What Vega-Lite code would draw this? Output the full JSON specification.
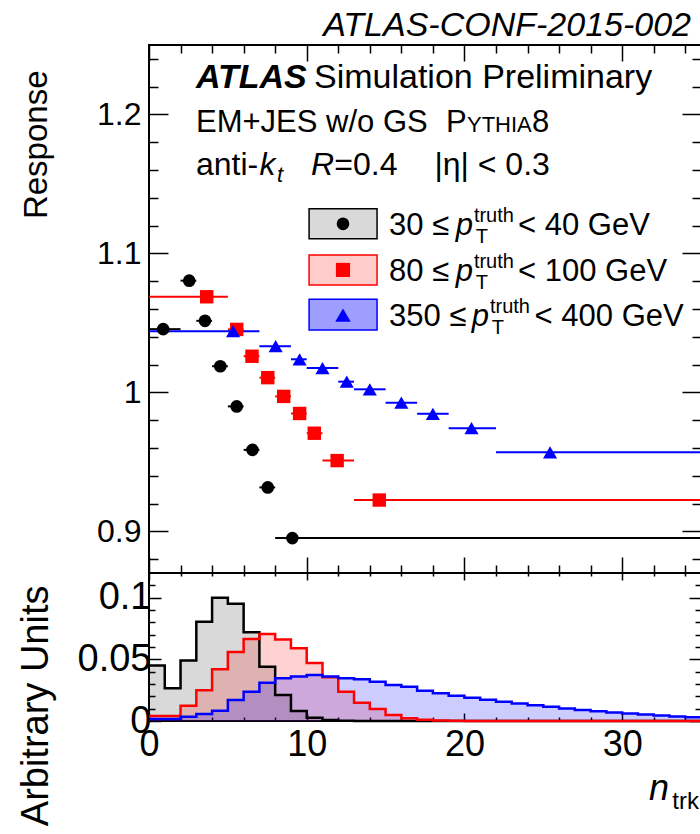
{
  "$schema": "https://vega.github.io/schema/vega-lite/v6.json",
  "padding": {"left": 15, "top": 8, "right": 0, "bottom": 0},
  "background": "white",
  "spacing": 0,
  "bounds": "flush",
  "config": {
    "font": "Liberation Sans",
    "view": {"stroke": "black", "strokeWidth": 2},
    "axis": {"domain": false, "grid": false, "tickColor": "black", "tickWidth": 1.5, "labelColor": "black", "titleColor": "black", "labelFont": "Liberation Sans", "titleFont": "Liberation Sans", "titleFontWeight": "normal", "labelFlush": false, "labelOverlap": false},
    "text": {"font": "Liberation Sans", "color": "black"}
  },
  "datasets": {
    "resp": [
      {"s": "30", "x": 0.90, "lo": 0, "hi": 2, "r": 1.0455},
      {"s": "30", "x": 2.55, "lo": 2, "hi": 3, "r": 1.0804},
      {"s": "30", "x": 3.55, "lo": 3, "hi": 4, "r": 1.0515},
      {"s": "30", "x": 4.52, "lo": 4, "hi": 5, "r": 1.0188},
      {"s": "30", "x": 5.56, "lo": 5, "hi": 6, "r": 0.9899},
      {"s": "30", "x": 6.56, "lo": 6, "hi": 7, "r": 0.9586},
      {"s": "30", "x": 7.53, "lo": 7, "hi": 8, "r": 0.9316},
      {"s": "30", "x": 9.09, "lo": 8, "hi": 35, "r": 0.8951},
      {"s": "80", "x": 3.66, "lo": 0, "hi": 5, "r": 1.0688},
      {"s": "80", "x": 5.56, "lo": 5, "hi": 6, "r": 1.0453},
      {"s": "80", "x": 6.53, "lo": 6, "hi": 7, "r": 1.0260},
      {"s": "80", "x": 7.53, "lo": 7, "hi": 8, "r": 1.0106},
      {"s": "80", "x": 8.54, "lo": 8, "hi": 9, "r": 0.9971},
      {"s": "80", "x": 9.55, "lo": 9, "hi": 10, "r": 0.9848},
      {"s": "80", "x": 10.48, "lo": 10, "hi": 11, "r": 0.9706},
      {"s": "80", "x": 11.93, "lo": 11, "hi": 13, "r": 0.9509},
      {"s": "80", "x": 14.60, "lo": 13, "hi": 35, "r": 0.9225},
      {"s": "350", "x": 5.33, "lo": 0, "hi": 7, "r": 1.0440},
      {"s": "350", "x": 8.03, "lo": 7, "hi": 9, "r": 1.0332},
      {"s": "350", "x": 9.55, "lo": 9, "hi": 10, "r": 1.0238},
      {"s": "350", "x": 11.00, "lo": 10, "hi": 12, "r": 1.0175},
      {"s": "350", "x": 12.54, "lo": 12, "hi": 13, "r": 1.0077},
      {"s": "350", "x": 14.00, "lo": 13, "hi": 15, "r": 1.0022},
      {"s": "350", "x": 16.00, "lo": 15, "hi": 17, "r": 0.9926},
      {"s": "350", "x": 18.00, "lo": 17, "hi": 19, "r": 0.9846},
      {"s": "350", "x": 20.45, "lo": 19, "hi": 22, "r": 0.9742},
      {"s": "350", "x": 25.43, "lo": 22, "hi": 35, "r": 0.9569}
    ],
    "hist": [
      {"s": "30", "n": 0, "v": 0.0450}, {"s": "30", "n": 1, "v": 0.0265}, {"s": "30", "n": 2, "v": 0.0490},
      {"s": "30", "n": 3, "v": 0.0805}, {"s": "30", "n": 4, "v": 0.1000}, {"s": "30", "n": 5, "v": 0.0950},
      {"s": "30", "n": 6, "v": 0.0720}, {"s": "30", "n": 7, "v": 0.0440}, {"s": "30", "n": 8, "v": 0.0210},
      {"s": "30", "n": 9, "v": 0.0081}, {"s": "30", "n": 10, "v": 0.0027}, {"s": "30", "n": 11, "v": 0.0008},
      {"s": "30", "n": 12, "v": 0.0002}, {"s": "30", "n": 13, "v": 0.0}, {"s": "30", "n": 35, "v": 0.0},
      {"s": "80", "n": 0, "v": 0.0040}, {"s": "80", "n": 1, "v": 0.0040}, {"s": "80", "n": 2, "v": 0.0124},
      {"s": "80", "n": 3, "v": 0.0250}, {"s": "80", "n": 4, "v": 0.0420}, {"s": "80", "n": 5, "v": 0.0560},
      {"s": "80", "n": 6, "v": 0.0665}, {"s": "80", "n": 7, "v": 0.0706}, {"s": "80", "n": 8, "v": 0.0660},
      {"s": "80", "n": 9, "v": 0.0590}, {"s": "80", "n": 10, "v": 0.0470}, {"s": "80", "n": 11, "v": 0.0354},
      {"s": "80", "n": 12, "v": 0.0238}, {"s": "80", "n": 13, "v": 0.0148}, {"s": "80", "n": 14, "v": 0.0097},
      {"s": "80", "n": 15, "v": 0.0049}, {"s": "80", "n": 16, "v": 0.0022}, {"s": "80", "n": 17, "v": 0.0010},
      {"s": "80", "n": 18, "v": 0.0005}, {"s": "80", "n": 19, "v": 0.0002}, {"s": "80", "n": 20, "v": 0.0001},
      {"s": "80", "n": 21, "v": 0.0}, {"s": "80", "n": 35, "v": 0.0},
      {"s": "350", "n": 0, "v": 0.0016}, {"s": "350", "n": 1, "v": 0.0016}, {"s": "350", "n": 2, "v": 0.0035},
      {"s": "350", "n": 3, "v": 0.0057}, {"s": "350", "n": 4, "v": 0.0084}, {"s": "350", "n": 5, "v": 0.0170},
      {"s": "350", "n": 6, "v": 0.0238}, {"s": "350", "n": 7, "v": 0.0310}, {"s": "350", "n": 8, "v": 0.0346},
      {"s": "350", "n": 9, "v": 0.0360}, {"s": "350", "n": 10, "v": 0.0373}, {"s": "350", "n": 11, "v": 0.0360},
      {"s": "350", "n": 12, "v": 0.0346}, {"s": "350", "n": 13, "v": 0.0338}, {"s": "350", "n": 14, "v": 0.0319},
      {"s": "350", "n": 15, "v": 0.0292}, {"s": "350", "n": 16, "v": 0.0278}, {"s": "350", "n": 17, "v": 0.0246},
      {"s": "350", "n": 18, "v": 0.0224}, {"s": "350", "n": 19, "v": 0.0205}, {"s": "350", "n": 20, "v": 0.0188},
      {"s": "350", "n": 21, "v": 0.0172}, {"s": "350", "n": 22, "v": 0.0157}, {"s": "350", "n": 23, "v": 0.0142},
      {"s": "350", "n": 24, "v": 0.0128}, {"s": "350", "n": 25, "v": 0.0115}, {"s": "350", "n": 26, "v": 0.0102},
      {"s": "350", "n": 27, "v": 0.0090}, {"s": "350", "n": 28, "v": 0.0079}, {"s": "350", "n": 29, "v": 0.0069},
      {"s": "350", "n": 30, "v": 0.0060}, {"s": "350", "n": 31, "v": 0.0052}, {"s": "350", "n": 32, "v": 0.0044},
      {"s": "350", "n": 33, "v": 0.0037}, {"s": "350", "n": 34, "v": 0.0031}, {"s": "350", "n": 35, "v": 0.0031}
    ]
  },
  "vconcat": [
    {
      "width": 552,
      "height": 528,
      "resolve": {"axis": {"x": "independent", "y": "independent"}},
      "layer": [
        {
          "data": {"name": "resp"},
          "mark": {"type": "rule", "strokeWidth": 2},
          "encoding": {
            "x": {"field": "lo", "type": "quantitative", "scale": {"domain": [0, 35], "nice": false, "zero": false},
              "axis": {"orient": "bottom", "values": [0,2,4,6,8,10,12,14,16,18,20,22,24,26,28,30,32,34], "labels": false, "title": null, "minExtent": 0, "maxExtent": 0,
                "tickSize": {"condition": {"test": "datum.value % 10 == 0", "value": -16}, "value": -8}}},
            "x2": {"field": "hi"},
            "y": {"field": "r", "type": "quantitative", "scale": {"domain": [0.87, 1.25], "nice": false, "zero": false},
              "axis": {"orient": "left", "values": [0.88,0.9,0.92,0.94,0.96,0.98,1.0,1.02,1.04,1.06,1.08,1.1,1.12,1.14,1.16,1.18,1.2,1.22,1.24],
                "tickSize": {"condition": {"test": "abs(round(datum.value*10) - datum.value*10) < 1e-6", "value": -19}, "value": -9},
                "labelExpr": "abs(round(datum.value*10) - datum.value*10) < 1e-6 ? format(datum.value, '~g') : ''",
                "labelFontSize": {"condition": {"test": "abs(round(datum.value*10) - datum.value*10) < 1e-6", "value": 32}, "value": 0},
                "labelPadding": 27, "minExtent": 60, "maxExtent": 60,
                "title": "Response", "titleFontSize": 33, "titleX": -96, "titleY": 25, "titleAlign": "right", "titleBaseline": "bottom", "titleAngle": -90}},
            "color": {"field": "s", "type": "nominal", "scale": {"domain": ["30", "80", "350"], "range": ["#000000", "#ff0000", "#0000ff"]}, "legend": null}
          }
        },
        {
          "data": {"name": "resp"},
          "mark": {"type": "rule", "opacity": 0},
          "encoding": {
            "x": {"field": "lo", "type": "quantitative",
              "axis": {"orient": "top", "values": [0,2,4,6,8,10,12,14,16,18,20,22,24,26,28,30,32,34], "labels": false, "title": null, "minExtent": 0, "maxExtent": 0,
                "tickSize": {"condition": {"test": "datum.value % 10 == 0", "value": -16}, "value": -8}}},
            "y": {"field": "r", "type": "quantitative",
              "axis": {"orient": "right", "values": [0.88,0.9,0.92,0.94,0.96,0.98,1.0,1.02,1.04,1.06,1.08,1.1,1.12,1.14,1.16,1.18,1.2,1.22,1.24], "labels": false, "title": null, "minExtent": 0, "maxExtent": 0,
                "tickSize": {"condition": {"test": "abs(round(datum.value*10) - datum.value*10) < 1e-6", "value": -19}, "value": -9}}}
          }
        },
        {
          "data": {"name": "resp"},
          "mark": {"type": "point", "filled": true, "opacity": 1},
          "encoding": {
            "x": {"field": "x", "type": "quantitative", "axis": null},
            "y": {"field": "r", "type": "quantitative", "axis": null},
            "color": {"field": "s", "type": "nominal", "legend": null},
            "shape": {"field": "s", "type": "nominal", "scale": {"domain": ["30", "80", "350"], "range": ["circle", "square", "triangle-up"]}, "legend": null},
            "size": {"field": "s", "type": "nominal", "scale": {"domain": ["30", "80", "350"], "range": [160, 200, 240]}, "legend": null}
          }
        },
        {"data": {"values": [{}]}, "mark": {"type": "rect", "fill": "#000000", "fillOpacity": 0.15, "stroke": "#000000", "strokeWidth": 1.5},
          "encoding": {"x": {"datum": 10.15, "type": "quantitative", "axis": null}, "x2": {"datum": 14.46}, "y": {"datum": 1.1321, "type": "quantitative", "axis": null}, "y2": {"datum": 1.1105}}},
        {"data": {"values": [{}]}, "mark": {"type": "rect", "fill": "#ff0000", "fillOpacity": 0.2, "stroke": "#ff0000", "strokeWidth": 1.5},
          "encoding": {"x": {"datum": 10.15, "type": "quantitative", "axis": null}, "x2": {"datum": 14.46}, "y": {"datum": 1.0989, "type": "quantitative", "axis": null}, "y2": {"datum": 1.0773}}},
        {"data": {"values": [{}]}, "mark": {"type": "rect", "fill": "#0000ff", "fillOpacity": 0.38, "stroke": "#0000ff", "strokeWidth": 1.5},
          "encoding": {"x": {"datum": 10.15, "type": "quantitative", "axis": null}, "x2": {"datum": 14.46}, "y": {"datum": 1.0671, "type": "quantitative", "axis": null}, "y2": {"datum": 1.0448}}},
        {"data": {"values": [{}]}, "mark": {"type": "point", "shape": "circle", "filled": true, "color": "#000000", "opacity": 1, "size": 160},
          "encoding": {"x": {"datum": 12.3, "type": "quantitative", "axis": null}, "y": {"datum": 1.1213, "type": "quantitative", "axis": null}}},
        {"data": {"values": [{}]}, "mark": {"type": "point", "shape": "square", "filled": true, "color": "#ff0000", "opacity": 1, "size": 200},
          "encoding": {"x": {"datum": 12.3, "type": "quantitative", "axis": null}, "y": {"datum": 1.0881, "type": "quantitative", "axis": null}}},
        {"data": {"values": [{}]}, "mark": {"type": "point", "shape": "triangle-up", "filled": true, "color": "#0000ff", "opacity": 1, "size": 240},
          "encoding": {"x": {"datum": 12.3, "type": "quantitative", "axis": null}, "y": {"datum": 1.0556, "type": "quantitative", "axis": null}}},

        {"data": {"values": [{}]}, "mark": {"type": "text", "text": "30 ≤", "fontSize": 31, "align": "left", "baseline": "alphabetic"},
          "encoding": {"x": {"datum": 15.22, "type": "quantitative", "axis": null}, "y": {"datum": 1.1134, "type": "quantitative", "axis": null}}},
        {"data": {"values": [{}]}, "mark": {"type": "text", "text": "p", "fontSize": 31, "fontStyle": "italic", "align": "left", "baseline": "alphabetic"},
          "encoding": {"x": {"datum": 19.45, "type": "quantitative", "axis": null}, "y": {"datum": 1.1134, "type": "quantitative", "axis": null}}},
        {"data": {"values": [{}]}, "mark": {"type": "text", "text": "truth", "fontSize": 20, "align": "left", "baseline": "alphabetic", "dy": -13},
          "encoding": {"x": {"datum": 20.6, "type": "quantitative", "axis": null}, "y": {"datum": 1.1134, "type": "quantitative", "axis": null}}},
        {"data": {"values": [{}]}, "mark": {"type": "text", "text": "T", "fontSize": 20, "align": "left", "baseline": "alphabetic", "dy": 8},
          "encoding": {"x": {"datum": 20.72, "type": "quantitative", "axis": null}, "y": {"datum": 1.1134, "type": "quantitative", "axis": null}}},
        {"data": {"values": [{}]}, "mark": {"type": "text", "text": "< 40 GeV", "fontSize": 31, "align": "left", "baseline": "alphabetic"},
          "encoding": {"x": {"datum": 23.4, "type": "quantitative", "axis": null}, "y": {"datum": 1.1134, "type": "quantitative", "axis": null}}},

        {"data": {"values": [{}]}, "mark": {"type": "text", "text": "80 ≤", "fontSize": 31, "align": "left", "baseline": "alphabetic"},
          "encoding": {"x": {"datum": 15.22, "type": "quantitative", "axis": null}, "y": {"datum": 1.0801, "type": "quantitative", "axis": null}}},
        {"data": {"values": [{}]}, "mark": {"type": "text", "text": "p", "fontSize": 31, "fontStyle": "italic", "align": "left", "baseline": "alphabetic"},
          "encoding": {"x": {"datum": 19.45, "type": "quantitative", "axis": null}, "y": {"datum": 1.0801, "type": "quantitative", "axis": null}}},
        {"data": {"values": [{}]}, "mark": {"type": "text", "text": "truth", "fontSize": 20, "align": "left", "baseline": "alphabetic", "dy": -13},
          "encoding": {"x": {"datum": 20.6, "type": "quantitative", "axis": null}, "y": {"datum": 1.0801, "type": "quantitative", "axis": null}}},
        {"data": {"values": [{}]}, "mark": {"type": "text", "text": "T", "fontSize": 20, "align": "left", "baseline": "alphabetic", "dy": 8},
          "encoding": {"x": {"datum": 20.72, "type": "quantitative", "axis": null}, "y": {"datum": 1.0801, "type": "quantitative", "axis": null}}},
        {"data": {"values": [{}]}, "mark": {"type": "text", "text": "< 100 GeV", "fontSize": 31, "align": "left", "baseline": "alphabetic"},
          "encoding": {"x": {"datum": 23.4, "type": "quantitative", "axis": null}, "y": {"datum": 1.0801, "type": "quantitative", "axis": null}}},

        {"data": {"values": [{}]}, "mark": {"type": "text", "text": "350 ≤", "fontSize": 31, "align": "left", "baseline": "alphabetic"},
          "encoding": {"x": {"datum": 15.22, "type": "quantitative", "axis": null}, "y": {"datum": 1.0477, "type": "quantitative", "axis": null}}},
        {"data": {"values": [{}]}, "mark": {"type": "text", "text": "p", "fontSize": 31, "fontStyle": "italic", "align": "left", "baseline": "alphabetic"},
          "encoding": {"x": {"datum": 20.47, "type": "quantitative", "axis": null}, "y": {"datum": 1.0477, "type": "quantitative", "axis": null}}},
        {"data": {"values": [{}]}, "mark": {"type": "text", "text": "truth", "fontSize": 20, "align": "left", "baseline": "alphabetic", "dy": -13},
          "encoding": {"x": {"datum": 21.62, "type": "quantitative", "axis": null}, "y": {"datum": 1.0477, "type": "quantitative", "axis": null}}},
        {"data": {"values": [{}]}, "mark": {"type": "text", "text": "T", "fontSize": 20, "align": "left", "baseline": "alphabetic", "dy": 8},
          "encoding": {"x": {"datum": 21.74, "type": "quantitative", "axis": null}, "y": {"datum": 1.0477, "type": "quantitative", "axis": null}}},
        {"data": {"values": [{}]}, "mark": {"type": "text", "text": "< 400 GeV", "fontSize": 31, "align": "left", "baseline": "alphabetic"},
          "encoding": {"x": {"datum": 24.45, "type": "quantitative", "axis": null}, "y": {"datum": 1.0477, "type": "quantitative", "axis": null}}},

        {"data": {"values": [{}]}, "mark": {"type": "text", "text": "ATLAS", "fontSize": 34, "fontWeight": "bold", "fontStyle": "italic", "align": "left", "baseline": "alphabetic"},
          "encoding": {"x": {"datum": 2.98, "type": "quantitative", "axis": null}, "y": {"datum": 1.2188, "type": "quantitative", "axis": null}}},
        {"data": {"values": [{}]}, "mark": {"type": "text", "text": "Simulation Preliminary", "fontSize": 34, "align": "left", "baseline": "alphabetic"},
          "encoding": {"x": {"datum": 10.46, "type": "quantitative", "axis": null}, "y": {"datum": 1.2188, "type": "quantitative", "axis": null}}},
        {"data": {"values": [{}]}, "mark": {"type": "text", "text": "EM+JES w/o GS", "fontSize": 31, "align": "left", "baseline": "alphabetic"},
          "encoding": {"x": {"datum": 2.98, "type": "quantitative", "axis": null}, "y": {"datum": 1.1877, "type": "quantitative", "axis": null}}},
        {"data": {"values": [{}]}, "mark": {"type": "text", "text": "P", "fontSize": 31, "align": "left", "baseline": "alphabetic"},
          "encoding": {"x": {"datum": 18.83, "type": "quantitative", "axis": null}, "y": {"datum": 1.1877, "type": "quantitative", "axis": null}}},
        {"data": {"values": [{}]}, "mark": {"type": "text", "text": "YTHIA", "fontSize": 22, "align": "left", "baseline": "alphabetic"},
          "encoding": {"x": {"datum": 20.16, "type": "quantitative", "axis": null}, "y": {"datum": 1.1877, "type": "quantitative", "axis": null}}},
        {"data": {"values": [{}]}, "mark": {"type": "text", "text": "8", "fontSize": 31, "align": "left", "baseline": "alphabetic"},
          "encoding": {"x": {"datum": 24.29, "type": "quantitative", "axis": null}, "y": {"datum": 1.1877, "type": "quantitative", "axis": null}}},
        {"data": {"values": [{}]}, "mark": {"type": "text", "text": "anti-", "fontSize": 32, "align": "left", "baseline": "alphabetic"},
          "encoding": {"x": {"datum": 2.98, "type": "quantitative", "axis": null}, "y": {"datum": 1.1567, "type": "quantitative", "axis": null}}},
        {"data": {"values": [{}]}, "mark": {"type": "text", "text": "k", "fontSize": 32, "fontStyle": "italic", "align": "left", "baseline": "alphabetic"},
          "encoding": {"x": {"datum": 7.0, "type": "quantitative", "axis": null}, "y": {"datum": 1.1567, "type": "quantitative", "axis": null}}},
        {"data": {"values": [{}]}, "mark": {"type": "text", "text": "t", "fontSize": 22, "fontStyle": "italic", "align": "left", "baseline": "alphabetic", "dy": 7},
          "encoding": {"x": {"datum": 8.12, "type": "quantitative", "axis": null}, "y": {"datum": 1.1567, "type": "quantitative", "axis": null}}},
        {"data": {"values": [{}]}, "mark": {"type": "text", "text": "R", "fontSize": 32, "fontStyle": "italic", "align": "left", "baseline": "alphabetic"},
          "encoding": {"x": {"datum": 10.27, "type": "quantitative", "axis": null}, "y": {"datum": 1.1567, "type": "quantitative", "axis": null}}},
        {"data": {"values": [{}]}, "mark": {"type": "text", "text": "=0.4", "fontSize": 32, "align": "left", "baseline": "alphabetic"},
          "encoding": {"x": {"datum": 11.75, "type": "quantitative", "axis": null}, "y": {"datum": 1.1567, "type": "quantitative", "axis": null}}},
        {"data": {"values": [{}]}, "mark": {"type": "text", "text": "|η| < 0.3", "fontSize": 32, "align": "left", "baseline": "alphabetic"},
          "encoding": {"x": {"datum": 18.1, "type": "quantitative", "axis": null}, "y": {"datum": 1.1567, "type": "quantitative", "axis": null}}},
        {"data": {"values": [{}]}, "mark": {"type": "text", "text": "ATLAS-CONF-2015-002", "fontSize": 34, "fontStyle": "italic", "align": "right", "baseline": "alphabetic", "dx": -10, "dy": -9},
          "encoding": {"x": {"datum": 35, "type": "quantitative", "axis": null}, "y": {"datum": 1.25, "type": "quantitative", "axis": null}}}
      ]
    },
    {
      "width": 552,
      "height": 148,
      "resolve": {"axis": {"x": "independent", "y": "independent"}},
      "layer": [
        {
          "data": {"name": "hist"},
          "mark": {"type": "area", "interpolate": "step-after"},
          "encoding": {
            "x": {"field": "n", "type": "quantitative", "scale": {"domain": [0, 35], "nice": false, "zero": false},
              "axis": {"orient": "bottom", "values": [0,2,4,6,8,10,12,14,16,18,20,22,24,26,28,30,32,34],
                "labelExpr": "datum.value % 10 == 0 ? datum.label : ''", "labelFontSize": 36, "labelPadding": 14, "title": null,
                "tickSize": {"condition": {"test": "datum.value % 10 == 0", "value": -8}, "value": -4}}},
            "y": {"field": "v", "type": "quantitative", "stack": null, "scale": {"domain": [0, 0.12], "nice": false, "zero": false},
              "axis": {"orient": "left", "values": [0,0.01,0.02,0.03,0.04,0.05,0.06,0.07,0.08,0.09,0.1,0.11],
                "tickSize": {"condition": {"test": "abs(round(datum.value*20) - datum.value*20) < 1e-6", "value": -12}, "value": -6},
                "labelExpr": "abs(round(datum.value*20) - datum.value*20) < 1e-6 ? format(datum.value, '~g') : ''",
                "labelFontSize": {"condition": {"test": "abs(round(datum.value*20) - datum.value*20) < 1e-6", "value": 38}, "value": 0},
                "labelPadding": 10, "minExtent": 60, "maxExtent": 60,
                "title": "Arbitrary Units", "titleFontSize": 38, "titleX": -94, "titleY": 12, "titleAlign": "right", "titleBaseline": "bottom", "titleAngle": -90}},
            "color": {"field": "s", "type": "nominal", "scale": {"domain": ["30", "80", "350"], "range": ["#000000", "#ff0000", "#0000ff"]}, "legend": null},
            "fillOpacity": {"field": "s", "type": "nominal", "scale": {"domain": ["30", "80", "350"], "range": [0.15, 0.2, 0.38]}, "legend": null}
          }
        },
        {
          "data": {"name": "hist"},
          "mark": {"type": "line", "interpolate": "step-after", "strokeWidth": 2.5},
          "encoding": {
            "x": {"field": "n", "type": "quantitative",
              "axis": {"orient": "top", "values": [0,2,4,6,8,10,12,14,16,18,20,22,24,26,28,30,32,34], "labels": false, "title": null, "minExtent": 0, "maxExtent": 0,
                "tickSize": {"condition": {"test": "datum.value % 10 == 0", "value": -7}, "value": -3}}},
            "y": {"field": "v", "type": "quantitative",
              "axis": {"orient": "right", "values": [0,0.01,0.02,0.03,0.04,0.05,0.06,0.07,0.08,0.09,0.1,0.11], "labels": false, "title": null, "minExtent": 0, "maxExtent": 0,
                "tickSize": {"condition": {"test": "abs(round(datum.value*20) - datum.value*20) < 1e-6", "value": -12}, "value": -6}}},
            "color": {"field": "s", "type": "nominal", "legend": null}
          }
        },
        {"data": {"values": [{}]}, "mark": {"type": "text", "text": "n", "fontSize": 36, "fontStyle": "italic", "align": "right", "baseline": "alphabetic", "dx": -32, "dy": 79},
          "encoding": {"x": {"datum": 35, "type": "quantitative", "axis": null}, "y": {"datum": 0, "type": "quantitative", "axis": null}}},
        {"data": {"values": [{}]}, "mark": {"type": "text", "text": "trk", "fontSize": 24, "align": "right", "baseline": "alphabetic", "dx": -2, "dy": 88},
          "encoding": {"x": {"datum": 35, "type": "quantitative", "axis": null}, "y": {"datum": 0, "type": "quantitative", "axis": null}}}
      ]
    }
  ]
}
